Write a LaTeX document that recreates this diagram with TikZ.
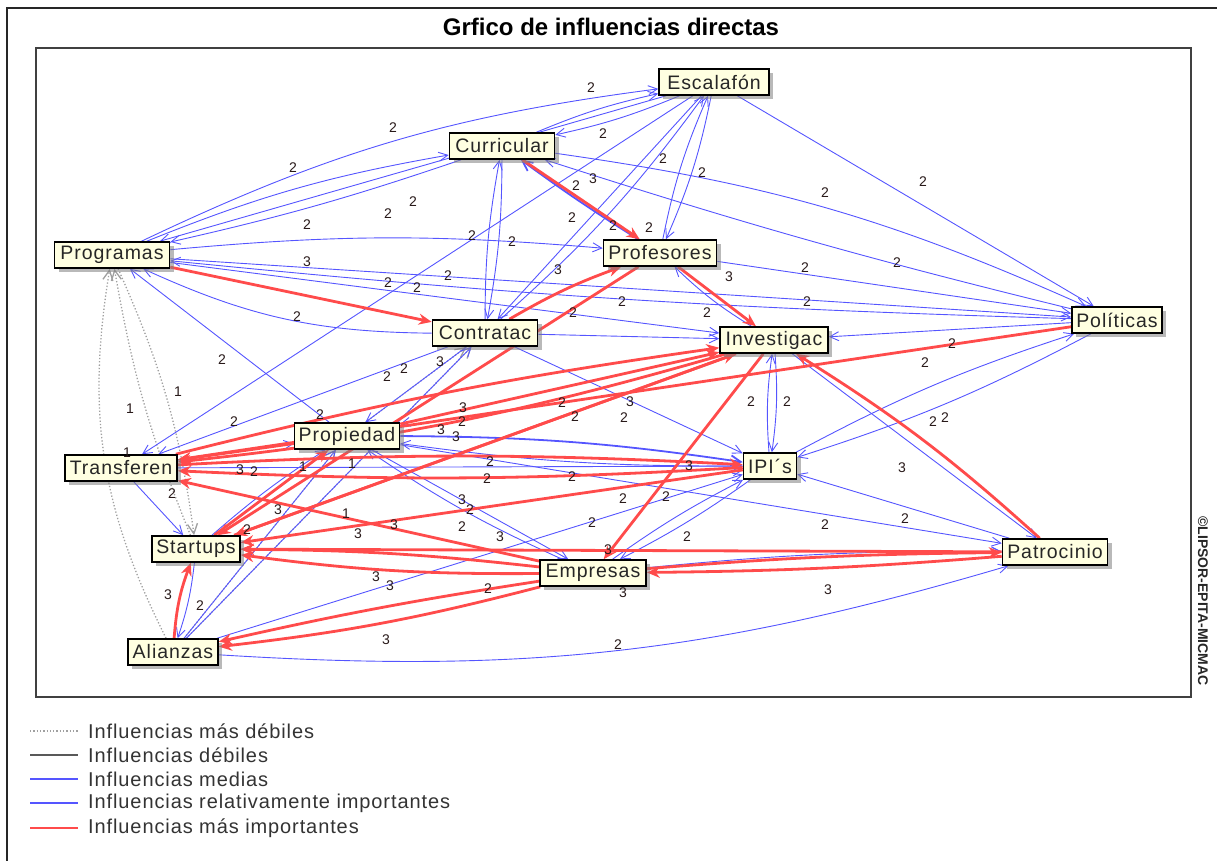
\documentclass[tikz,border=0pt]{standalone}
\usepackage{fontspec}
\setmainfont{Liberation Sans}
\newfontfamily\boxfont[LetterSpace=5]{Liberation Sans}
\newfontfamily\legfont[LetterSpace=4.5]{Liberation Sans}
\usetikzlibrary{arrows.meta,shadows}
\definecolor{edgeblue}{RGB}{85,85,255}
\definecolor{edgered}{RGB}{255,75,75}
\definecolor{edgegray}{RGB}{160,160,160}
\definecolor{boxfill}{RGB}{255,255,225}
\definecolor{lbltext}{RGB}{40,25,25}
\pgfdeclarelayer{edges}
\pgfsetlayers{edges,main}
\tikzset{
  var/.style={draw=black, line width=1.6pt, fill=boxfill, text=black!85,
    font=\boxfont\fontsize{19.5}{22}\selectfont, inner xsep=2pt, inner ysep=0pt,
    minimum height=26pt,
    drop shadow={shadow xshift=4pt, shadow yshift=-4pt, fill=black!50, opacity=0.55}},
  bl/.style={edgeblue, line width=0.9pt, -{Straight Barb[length=9pt,width=9pt]}},
  bm/.style={edgeblue, line width=1.8pt, -{Straight Barb[length=10pt,width=10pt]}},
  rd/.style={edgered, line width=2.8pt, -{Stealth[length=13pt,width=11pt]}},
  wk/.style={edgegray, line width=1.3pt, dotted, -{Straight Barb[length=10pt,width=10pt]}},
  lbl/.style={font=\fontsize{14}{14}\selectfont, text=lbltext, inner sep=0pt},
  legtext/.style={font=\legfont\fontsize{20}{22}\selectfont, text=black!80, anchor=west, inner sep=0pt},
}
\begin{document}
\begin{tikzpicture}[x=1pt,y=1pt]
\useasboundingbox (0,0) rectangle (1217,-861);
% frames and title
\draw[line width=1.6pt, black!85] (7,-861) -- (7,-8) -- (1217,-8);
\node[font=\bfseries\fontsize{24}{26}\selectfont] (title) at (611,-27) {Grfico de influencias directas};
\draw[line width=1.8pt, black!75] (36,-48) rectangle (1191,-697);
\node[rotate=-90, font=\bfseries\fontsize{14}{15}\selectfont, text=black!85] (copy) at (1203,-601) {©LIPSOR-EPITA-MICMAC};

% variables
\node[var, minimum width=110pt] (Esc) at (714,-82)  {Escalafón};
\node[var, minimum width=105pt] (Cur) at (502,-146) {Curricular};
\node[var, minimum width=115pt] (Pro) at (112,-255) {Programas};
\node[var, minimum width=113pt] (Prf) at (660,-253) {Profesores};
\node[var, minimum width=105pt] (Con) at (485,-333) {Contratac};
\node[var, minimum width=108pt] (Inv) at (774,-340) {Investigac};
\node[var, minimum width=90pt]  (Pol) at (1117,-320) {Políticas};
\node[var, minimum width=105pt] (Ppd) at (347,-436) {Propiedad};
\node[var, minimum width=112pt] (Tra) at (121,-468) {Transferen};
\node[var, minimum width=53pt]  (IPI) at (770,-466) {IPI´s};
\node[var, minimum width=88pt]  (Sta) at (196,-549) {Startups};
\node[var, minimum width=106pt] (Emp) at (593,-573) {Empresas};
\node[var, minimum width=105pt] (Pat) at (1055,-552) {Patrocinio};
\node[var, minimum width=90pt]  (Ali) at (173,-652) {Alianzas};

\begin{pgfonlayer}{edges}
% weakest influences
\draw[wk] (Ali) to[bend left=18] (Pro);
\draw[wk] (Sta) to[bend left=6] (Pro);
\draw[wk] (Pro) to[bend left=8] (Sta);
\draw[wk] (Ali) to (Con);
\draw[wk] (Sta) to (Con);
\draw[wk] (Ali) to (Ppd);
% medium influences
\draw[bl] (Pro) to[bend left=9] (Esc);
\draw[bl] (Pro) to[bend left=6] (Cur);
\draw[bl] (Cur) to[bend left=3] (Pro);
\draw[bl] (Esc) to (Pro);
\draw[bl] (Cur) to[bend left=5] (Esc);
\draw[bl] (Esc) to[bend left=5] (Cur);
\draw[bl] (Esc) to[bend left=6] (Prf);
\draw[bl] (Prf) to[bend left=6] (Esc);
\draw[bl] (Esc) to (Con);
\draw[bl] (Con) to[bend right=6] (Esc);
\draw[bl] (Esc) to (Tra);
\draw[bl] (Esc) to (Pol);
\draw[bl] (Cur) to[bend left=8] (Pol);
\draw[bl] (Pol) to[bend left=2] (Cur);
\draw[bm] (Prf) to[bend left=2] (Cur);
\draw[bl] (Cur) to[bend left=5] (Con);
\draw[bl] (Con) to[bend left=5] (Cur);
\draw[bl] (Pro) to[bend left=5] (Prf);
\draw[bl] (Con) to[bend left=12] (Pro);
\draw[bl] (Pro) to (Pol);
\draw[bl] (Pol) to[bend left=2] (Pro);
\draw[bl] (Pro) to (Inv);
\draw[bl] (Ppd) to (Pro);
\draw[bl] (Inv) to[bend left=6] (Prf);
\draw[bl] (Prf) to (Pol);
\draw[bl] (Pol) to (Inv);
\draw[bl] (Con) to (Inv);
\draw[bl] (Inv) to[bend left=6] (IPI);
\draw[bl] (IPI) to[bend left=6] (Inv);
\draw[bl] (Inv) to (Pat);
\draw[bl] (Pol) to[bend left=5] (IPI);
\draw[bl] (IPI) to[bend left=5] (Pol);
\draw[bl] (Pat) to (IPI);
\draw[bl] (Con) to (IPI);
\draw[bl] (Con) to (Tra);
\draw[bl] (Con) to (Ppd);
\draw[bm] (Ppd) to[bend left=4] (IPI);
\draw[bl] (IPI) to[bend left=4] (Ppd);
\draw[bl] (Ppd) to (Emp);
\draw[bl] (Emp) to[bend left=5] (Ppd);
\draw[bl] (Ppd) to (Pat);
\draw[bl] (Emp) to[bend left=4] (IPI);
\draw[bl] (IPI) to[bend left=4] (Emp);
\draw[bl] (Tra) to (Sta);
\draw[bl] (Sta) to[bend left=6] (Ali);
\draw[bl] (Ali) to (Con);
\draw[bl] (Ali) to (Ppd);
\draw[bl] (Ali) to (IPI);
\draw[bl] (Ali) to[bend right=10] (Pat);
\draw[bl] (Sta) to (Pat);
\draw[bl] (Sta) to[bend left=4] (Ppd);
\draw[bl] (Tra) to (Ppd);
\draw[bl] (Sta) to (IPI);
\draw[bl] (Inv) to (Ppd);
\draw[bl] (Tra) to (IPI);
\draw[bl] (Emp) to[bend left=3] (Pat);
% most important influences
\draw[rd] (Cur) to (Prf);
\draw[rd] (Pro) to (Con);
\draw[rd] (Prf) to (Inv);
\draw[rd] (Con) to[bend left=5] (Prf);
\draw[rd] (Prf) to (Sta);
\draw[rd] (Inv) to (Emp);
\draw[rd] (Pat) to[bend right=5] (Inv);
\draw[rd] (Pol) to (Tra);
\draw[rd] (Inv) to[bend left=5] (Tra);
\draw[rd] (Tra) to[bend left=3] (Inv);
\draw[rd] (Ppd) to (Inv);
\draw[rd] (Sta) to (Inv);
\draw[rd] (Ppd) to (Tra);
\draw[rd] (IPI) to[bend left=3] (Tra);
\draw[rd] (Tra) to[bend left=3] (IPI);
\draw[rd] (IPI) to (Sta);
\draw[rd] (Emp) to[bend left=4] (Sta);
\draw[rd] (Emp) to[bend right=3] (Sta);
\draw[rd] (Emp) to[bend left=4] (Ali);
\draw[rd] (Emp) to[bend right=2] (Ali);
\draw[rd] (Emp) to (Tra);
\draw[rd] (Ali) to[bend left=8] (Sta);
\draw[rd] (Emp) to[bend left=2] (Pat);
\draw[rd] (Pat) to[bend left=2] (Emp);
\draw[rd] (Pat) to (Sta);
\draw[rd] (Sta) to (Ppd);
\draw[rd] (Inv) to (Sta);
\end{pgfonlayer}

% edge values
\foreach \v/\x/\y in {
2/591/88, 2/393/128, 2/603/134, 2/293/168, 2/663/159, 2/702/173, 2/825/193, 2/923/182,
2/576/186, 3/593/179, 2/413/202, 2/388/214, 2/307/225, 2/572/218, 2/613/226, 2/649/228,
2/472/236, 2/512/242, 3/307/262, 2/805/268, 2/897/263, 3/558/270, 2/448/276, 2/388/283,
2/417/288, 3/729/277, 2/622/302, 2/807/302, 2/297/317, 2/573/313, 2/707/313, 2/952/344,
2/222/360, 3/440/362, 2/925/363, 2/404/369, 2/387/377, 1/178/392, 2/751/402, 2/787/402,
2/562/403, 3/630/402, 3/463/408, 1/130/409, 2/320/415, 2/624/418, 2/575/417, 2/945/418,
2/933/422, 2/234/422, 2/462/422, 3/441/430, 3/456/437, 1/127/453, 2/490/462, 1/352/464,
3/689/466, 1/303/467, 3/902/468, 3/240/470, 2/254/472, 2/572/477, 2/487/479, 2/172/494,
2/623/499, 2/666/497, 3/462/500, 3/278/510, 2/470/510, 1/346/514, 2/905/519, 2/592/523,
3/394/525, 2/825/525, 2/462/527, 2/247/530, 3/358/534, 3/500/537, 2/687/537, 3/608/550,
3/376/577, 3/390/586, 2/488/589, 3/828/590, 3/623/593, 3/168/595, 2/200/606, 3/386/640,
2/618/645}
  \node[lbl] at (\x,-\y) {\v};

% legend
\draw[edgegray, line width=1.3pt, dotted] (30,-731) coordinate (l1a) -- (78,-731) coordinate (l1b);
\node[legtext] (t1) at (88,-731) {Influencias más débiles};
\draw[black!65, line width=1.2pt] (30,-755) coordinate (l2a) -- (78,-755) coordinate (l2b);
\node[legtext] (t2) at (88,-755) {Influencias débiles};
\draw[edgeblue, line width=1.2pt] (30,-779) coordinate (l3a) -- (78,-779) coordinate (l3b);
\node[legtext] (t3) at (88,-779) {Influencias medias};
\draw[edgeblue, line width=2.6pt] (30,-803) coordinate (l4a) -- (78,-803) coordinate (l4b);
\node[legtext] (t4) at (88,-803) {Influencias relativamente importantes};
\draw[edgered, line width=2.8pt] (30,-828) coordinate (l5a) -- (78,-828) coordinate (l5b);
\node[legtext] (t5) at (88,-828) {Influencias más importantes};
\end{tikzpicture}
\end{document}
